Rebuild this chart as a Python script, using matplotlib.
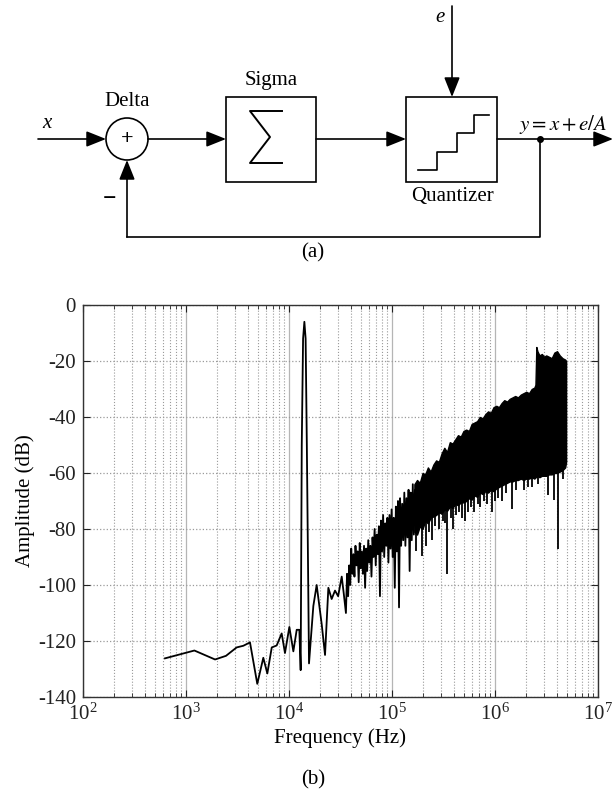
import matplotlib
matplotlib.use('Agg')
import matplotlib.pyplot as plt
from matplotlib.patches import Rectangle, Circle
from matplotlib.ticker import FixedLocator, LogLocator, NullFormatter

plt.rcParams.update({
    'font.family': ['Liberation Serif', 'DejaVu Serif'],
    'mathtext.fontset': 'stix',
    'axes.unicode_minus': False,
    'font.size': 15,
})

# ---------------- data ----------------
# single line part: low-frequency noise floor, signal tone, low-mid noise
line_f = [625, 1206, 1915, 2445, 3100, 3604, 4180, 4920, 5630, 6160, 6800, 7590,
          8490, 9140, 10080, 11020, 11880, 12600, 12980,
          13300, 13700, 14100, 14500, 14900, 15640,
          17230, 18560, 20770, 22380, 24100, 25950, 27970, 30000, 32500, 34000,
          35700, 36600, 37500, 38400, 39300, 40200, 41200, 42200, 43200, 44200,
          45300, 46400, 47500, 48600, 49800, 51000, 52200, 53500, 54800, 56100,
          57400, 58800, 60200, 61700, 63200, 64700, 66200, 67800, 69500, 71100,
          72800, 74600, 76400, 78200, 80100, 82000, 84000, 86000, 88000, 90200,
          92300, 94500, 96800, 99100, 101500, 103900, 106400, 109000, 111600,
          114300, 117000, 119800, 122700, 125600, 128600, 131700, 134900, 138100,
          141400, 144800, 148300, 151800, 155500, 159200, 163000, 166900, 170900]
line_a = [-126.2, -123.4, -126.6, -125.3, -122.3, -121.7, -120.5, -135.3, -126,
          -131.6, -122.3, -121.6, -117.3, -124.3, -115, -123.7, -116, -116, -130.4,
          -50, -12, -6, -12, -50, -128,
          -107.5, -100, -114, -125, -101, -105, -102, -104, -97, -103,
          -110, -96, -104, -93, -100, -87, -96, -89, -97, -86,
          -93, -88, -99, -85, -94, -88, -96, -86, -101, -87,
          -95, -84, -92, -86, -97, -83, -90, -80, -93, -82,
          -89, -79, -104, -77, -88, -75, -90, -78, -86, -76,
          -92, -75, -87, -73, -90, -76, -101, -72, -88,
          -70, -108, -69, -86, -71, -84, -67, -86, -69,
          -83, -66, -95, -67, -84, -64, -82, -66, -80]

# dense shaped-noise band: upper and lower envelopes
band_f = [1.65e5, 1.75e5, 1.86e5, 1.98e5, 2.1e5, 2.23e5, 2.37e5, 2.52e5, 2.68e5,
          2.85e5, 3.03e5, 3.22e5, 3.42e5, 3.64e5, 3.87e5, 4.11e5, 4.37e5, 4.65e5,
          4.94e5, 5.25e5, 5.58e5, 5.93e5, 6.3e5, 6.7e5, 7.12e5, 7.57e5, 8.05e5,
          8.56e5, 9.1e5, 9.67e5, 1.03e6, 1.09e6, 1.16e6, 1.23e6, 1.31e6, 1.39e6,
          1.48e6, 1.57e6, 1.67e6, 1.78e6, 1.89e6, 2.01e6, 2.14e6, 2.27e6, 2.41e6,
          2.47e6, 2.52e6, 2.58e6, 2.7e6, 2.85e6, 3.0e6, 3.14e6, 3.34e6, 3.55e6,
          3.77e6, 4.0e6, 4.25e6, 4.52e6, 4.8e6, 4.9e6]
band_top = [-64, -62.5, -63.5, -60, -60.5, -58, -59.5, -57, -55.5,
            -56, -53, -51, -52.5, -49, -49.5, -48, -46.5, -47,
            -45, -44.5, -45, -42.5, -42, -41.5, -40, -40.5, -39,
            -38, -38.5, -36.5, -36, -36.5, -35, -34, -34.5, -33.5,
            -33, -32.5, -33, -32, -31.5, -31, -31.5, -30, -29.5,
            -28.5, -15, -16.5, -18, -17.5, -18.5, -18, -18.5, -19,
            -17, -16.5, -18, -19, -19.5, -20]
band_bot = [-81, -82, -79, -80, -77, -78, -76, -75.5, -75,
            -74, -74.5, -73, -73.5, -72, -72.5, -71, -71.5, -70.5,
            -70.5, -70, -69, -69.5, -68, -68.5, -67, -67.5, -66.5,
            -67, -66, -66.5, -65.5, -65, -64.5, -64, -63.5, -63,
            -63, -62.5, -62.5, -62, -62.5, -62, -62, -61.5, -62,
            -61.5, -61.5, -61, -61.5, -61, -61, -61, -60.5, -60.5,
            -60, -60, -59.5, -59, -58, -56]

# downward spikes out of the band
spike_f = [1.72e5, 1.95e5, 2.14e5, 2.3e5, 2.45e5, 2.62e5, 2.88e5, 3.1e5, 3.24e5,
           3.4e5, 3.7e5, 3.9e5, 4.2e5, 4.5e5, 4.8e5, 5.1e5, 5.5e5, 5.8e5, 6.3e5,
           6.9e5, 7.2e5, 7.8e5, 8.4e5, 9.3e5, 1.0e6, 1.06e6, 1.16e6, 1.27e6,
           1.45e6, 1.6e6, 1.9e6, 2.1e6, 2.3e6, 2.6e6, 3.3e6, 3.7e6, 4.12e6, 4.6e6]
spike_from = [-80, -78, -77, -76, -75, -74, -74, -73, -73,
              -72, -72, -71, -71, -70, -70, -69, -69, -68, -67,
              -67, -66, -66, -66, -65, -65, -64, -63, -63,
              -62, -62, -61, -61, -60, -60, -60, -59, -58, -58]
spike_to = [-88, -89.5, -86, -81, -84, -79, -80, -77, -78,
            -96, -76, -80, -75, -74, -76, -77, -74, -72, -74,
            -71, -72, -70, -71, -74, -70, -69, -70, -67,
            -73, -66, -66, -65, -65, -64, -68, -69.5, -87, -62]

y_ticks = [0, -20, -40, -60, -80, -100, -120, -140]

# ---------------- figure ----------------
fig = plt.figure(figsize=(6.14, 8.0), dpi=100)

# ----- (a) block diagram, drawn in pixel units -----
axd = fig.add_axes([0, 1 - 265 / 800, 1, 265 / 800])
axd.set_xlim(0, 614)
axd.set_ylim(265, 0)
axd.axis('off')


def arrow(x0, y0, x1, y1):
    axd.annotate('', xy=(x1, y1), xytext=(x0, y0),
                 arrowprops=dict(arrowstyle='-|>,head_length=0.75,head_width=0.3',
                                 mutation_scale=16, color='k', lw=1.2,
                                 shrinkA=0, shrinkB=0))


ly = 139
lw = 1.2
# input
arrow(38, ly, 106, ly)
axd.text(47, 124, 'x', style='italic', ha='center', va='center', fontsize=15)
# summing node
axd.add_patch(Circle((127, ly), 21, fill=False, lw=lw, ec='k'))
axd.text(127, ly, '+', ha='center', va='center', fontsize=16, fontweight='bold')
axd.text(127, 101, 'Delta', ha='center', va='center', fontsize=15)
arrow(148, ly, 226, ly)
# sigma block
axd.add_patch(Rectangle((226, 97), 90, 85, fill=False, lw=lw, ec='k'))
axd.text(271, 80, 'Sigma', ha='center', va='center', fontsize=15)
axd.plot([282, 250, 270, 250, 282], [111, 111, 137, 163, 163], color='k', lw=1.4)
arrow(316, ly, 406, ly)
# quantizer block
axd.add_patch(Rectangle((406, 97), 91, 85, fill=False, lw=lw, ec='k'))
axd.plot([418, 437, 437, 457, 457, 474, 474, 489],
         [170, 170, 152, 152, 133, 133, 115, 115], color='k', lw=1.2)
axd.text(452, 197, 'Quantizer', ha='center', va='center', fontsize=15)
arrow(452, 6, 452, 97)
axd.text(440, 17, 'e', style='italic', ha='center', va='center', fontsize=15)
# output
arrow(497, ly, 613, ly)
axd.plot([540], [ly], 'o', color='k', ms=4)
axd.text(563, 124, r'$y = x + e/A$', ha='center', va='center', fontsize=15)
# feedback
axd.plot([540, 540, 127], [ly, 237, 237], color='k', lw=lw)
arrow(127, 237, 127, 160)
axd.text(110, 199, '\u2212', ha='center', va='center', fontsize=17, fontweight='bold')
axd.text(313, 253, '(a)', ha='center', va='center', fontsize=15)

# ----- (b) spectrum -----
ax = fig.add_axes([83 / 614, 1 - 697 / 800, 515 / 614, 392 / 800])
ax.set_xscale('log')
ax.set_xlim(1e2, 1e7)
ax.set_ylim(-140, 0)

ax.fill_between(band_f, band_bot, band_top, color='k', lw=1.0, edgecolor='k')
ax.plot(line_f, line_a, color='k', lw=1.3)
ax.vlines(spike_f, spike_to, spike_from, color='k', lw=1.3)
# closing edge of the band at the top frequency
ax.vlines([band_f[-1]], [band_bot[-1]], [band_top[-1]], color='k', lw=1.3)

ax.yaxis.set_major_locator(FixedLocator(y_ticks))
ax.set_yticklabels([str(v) for v in y_ticks])
ax.xaxis.set_major_locator(LogLocator(base=10, numticks=10))
ax.xaxis.set_minor_locator(LogLocator(base=10, subs=range(2, 10), numticks=100))
ax.xaxis.set_minor_formatter(NullFormatter())

ax.grid(True, which='major', axis='y', color='#9a9a9a', ls=':', lw=0.9)
ax.grid(True, which='major', axis='x', color='#b5b5b5', ls='-', lw=0.9)
ax.grid(True, which='minor', axis='x', color='#9a9a9a', ls=':', lw=0.8)
ax.set_axisbelow(True)

ax.tick_params(which='both', direction='in', top=True, right=True,
               labelsize=15, colors='#222222')
ax.tick_params(which='major', length=5, pad=5)
ax.tick_params(which='minor', length=3)
for s in ax.spines.values():
    s.set_linewidth(1.0)
    s.set_color('#333333')

ax.set_xlabel('Frequency (Hz)', fontsize=15, labelpad=2)
ax.set_ylabel('Amplitude (dB)', fontsize=15, labelpad=2)

fig.text(313 / 614, 1 - 780 / 800, '(b)', ha='center', va='center', fontsize=15)

fig.savefig('out.png', dpi=100)
